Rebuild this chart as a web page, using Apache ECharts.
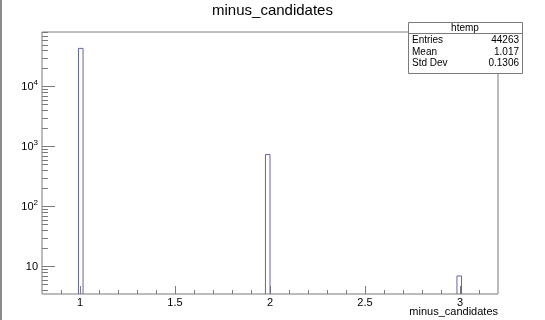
<!DOCTYPE html>
<html>
<head>
<meta charset="utf-8">
<script src="https://cdn.jsdelivr.net/npm/echarts@6/dist/echarts.min.js"></script>
<style>
  html, body { margin: 0; padding: 0; background: #ffffff; }
  #chart { width: 545px; height: 320px; }
</style>
</head>
<body>
<div id="chart"></div>
<script>
// Histogram bins of minus_candidates (bin edges and counts)
const binLow = [0.992, 1.976, 2.984];
const binHigh = [1.016, 2.0, 3.008];
const counts = [43516, 740, 7];

// Axis ranges and ticks
const xRange = [0.8, 3.2];
const yRange = [3.5, 81600];
const xMajorTicks = [1, 1.5, 2, 2.5, 3];
const xMinorTicks = [0.9, 1.1, 1.2, 1.3, 1.4, 1.6, 1.7, 1.8, 1.9, 2.1, 2.2, 2.3, 2.4, 2.6, 2.7, 2.8, 2.9, 3.1];
const yMajorTicks = [10, 100, 1000, 10000];
const yMinorTicks = [4, 5, 6, 7, 8, 9,
  20, 30, 40, 50, 60, 70, 80, 90,
  200, 300, 400, 500, 600, 700, 800, 900,
  2000, 3000, 4000, 5000, 6000, 7000, 8000, 9000,
  20000, 30000, 40000, 50000, 60000, 70000, 80000];

// Titles
const chartTitle = 'minus_candidates';
const xTitle = 'minus_candidates';

// Statistics box
const histName = 'htemp';
const statNames = ['Entries', 'Mean', 'Std Dev'];
const statValues = ['44263', '1.017', '0.1306'];

const FONT = '"Liberation Sans", Arial, Helvetica, sans-serif';
const FRAME = '#7a7a7a';
const LINE = '#6464aa';

const binData = binLow.map((lo, i) => [lo, binHigh[i], counts[i]]);

const chart = echarts.init(document.getElementById('chart'), null, { renderer: 'canvas' });

const option = {
  animation: false,
  backgroundColor: '#ffffff',
  title: {
    text: chartTitle,
    left: 'center',
    top: 3,
    padding: 0,
    textStyle: { fontFamily: FONT, fontSize: 15, fontWeight: 'normal', color: '#000' }
  },
  grid: {
    left: 42, right: 47, top: 32, bottom: 26,
    containLabel: false,
    outerBoundsMode: 'none',
    show: true, borderColor: FRAME, borderWidth: 1, backgroundColor: 'transparent'
  },
  xAxis: [
    {
      type: 'value', min: xRange[0], max: xRange[1], position: 'bottom',
      axisLine: { show: false },
      splitLine: { show: false },
      axisTick: { show: true, inside: true, length: 8, customValues: xMajorTicks, lineStyle: { color: FRAME } },
      axisLabel: {
        customValues: xMajorTicks, margin: 3,
        fontFamily: FONT, fontSize: 11, color: '#000',
        formatter: v => String(v)
      }
    },
    {
      type: 'value', min: xRange[0], max: xRange[1], position: 'bottom',
      axisLine: { show: false }, splitLine: { show: false },
      axisTick: { show: true, inside: true, length: 4, customValues: xMinorTicks, lineStyle: { color: FRAME } },
      axisLabel: { show: false }
    }
  ],
  yAxis: [
    {
      type: 'log', min: yRange[0], max: yRange[1], position: 'left',
      axisLine: { show: false }, splitLine: { show: false },
      axisTick: { show: true, inside: true, length: 13, customValues: yMajorTicks, lineStyle: { color: FRAME } },
      axisLabel: {
        customValues: yMajorTicks, margin: 4,
        fontFamily: FONT, fontSize: 11, color: '#000',
        formatter: v => {
          const e = Math.round(Math.log10(v));
          return e === 1 ? '10' : '10{s|' + e + '}';
        },
        rich: {
          s: { fontFamily: FONT, fontSize: 8, color: '#000', verticalAlign: 'top', padding: [0, 0, 7, 0] }
        }
      }
    },
    {
      type: 'log', min: yRange[0], max: yRange[1], position: 'left',
      axisLine: { show: false }, splitLine: { show: false },
      axisTick: { show: true, inside: true, length: 6, customValues: yMinorTicks, lineStyle: { color: FRAME } },
      axisLabel: { show: false }
    }
  ],
  series: [
    {
      type: 'custom',
      xAxisIndex: 0, yAxisIndex: 0,
      data: binData,
      clip: true,
      renderItem: (params, api) => {
        const left = api.coord([api.value(0), api.value(2)]);
        const right = api.coord([api.value(1), api.value(2)]);
        const base = api.coord([api.value(0), yRange[0]]);
        return {
          type: 'polyline',
          shape: { points: [[left[0], base[1]], [left[0], left[1]], [right[0], right[1]], [right[0], base[1]]] },
          style: { stroke: LINE, lineWidth: 1, fill: null }
        };
      }
    }
  ],
  graphic: [
    { type: 'rect', left: 0, top: 0, shape: { width: 2, height: 320 }, style: { fill: '#8a8a8a' }, z: 10 },
    // x-axis title, right-aligned to the frame edge
    { type: 'text', x: 498, y: 312, z: 10, style: { text: xTitle, font: '11px ' + FONT, fill: '#000', align: 'right', verticalAlign: 'middle' } },
    {
      type: 'group', left: 406, top: 22, z: 20,
      children: [
        { type: 'rect', shape: { x: 0.5, y: 0.5, width: 114, height: 51 }, style: { fill: '#fff', stroke: FRAME, lineWidth: 1 } },
        { type: 'line', shape: { x1: 0.5, y1: 11.5, x2: 114.5, y2: 11.5 }, style: { stroke: FRAME, lineWidth: 1 } },
        { type: 'text', x: 57, y: 6, style: { text: histName, font: '10px ' + FONT, fill: '#000', align: 'center', verticalAlign: 'middle' } },
        ...statNames.map((n, i) => ({ type: 'text', x: 4, y: 18 + i * 11.8, style: { text: n, font: '10px ' + FONT, fill: '#000', align: 'left', verticalAlign: 'middle' } })),
        ...statValues.map((v, i) => ({ type: 'text', x: 111, y: 18 + i * 11.8, style: { text: v, font: '10px ' + FONT, fill: '#000', align: 'right', verticalAlign: 'middle' } }))
      ]
    }
  ]
};

chart.setOption(option);
</script>
</body>
</html>
